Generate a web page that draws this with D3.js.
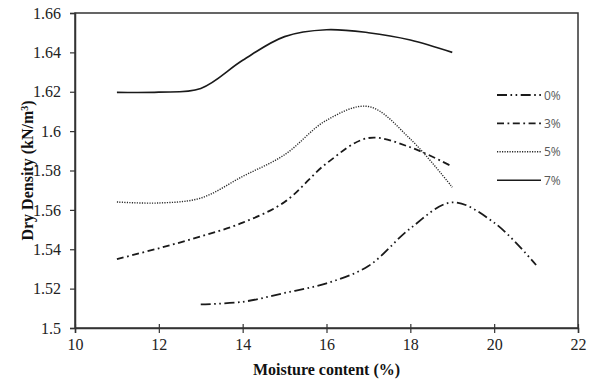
<!DOCTYPE html>
<html>
<head>
<meta charset="utf-8">
<script src="https://cdn.jsdelivr.net/npm/d3@7"></script>
<style>
  html, body { margin: 0; padding: 0; background: #fff; }
  svg { display: block; }
</style>
</head>
<body>
<svg id="chart" width="595" height="380"></svg>
<script>
// Moisture content (%) at each reading
const moisture0 = [13, 14, 15, 16, 17, 18, 19, 20, 21];
const moisture3 = [11, 12, 13, 14, 15, 16, 17, 18, 19];
const moisture5 = [11, 12, 13, 14, 15, 16, 17, 18, 19];
const moisture7 = [11, 12, 13, 14, 15, 16, 17, 18, 19];

// Dry density (kN/m³) for each additive content
const density0 = [1.512, 1.5133, 1.5178, 1.5227, 1.5315, 1.5506, 1.5638, 1.5535, 1.532];
const density3 = [1.535, 1.5405, 1.5465, 1.5535, 1.564, 1.5836, 1.5965, 1.5918, 1.582];
const density5 = [1.564, 1.5635, 1.566, 1.577, 1.588, 1.6055, 1.6125, 1.596, 1.5715];
const density7 = [1.6197, 1.6198, 1.6217, 1.636, 1.648, 1.6515, 1.650, 1.6463, 1.640];

const seriesNames = ["0%", "3%", "5%", "7%"];

// Axis ticks
const xTicks = [10, 12, 14, 16, 18, 20, 22];
const yTicks = [1.5, 1.52, 1.54, 1.56, 1.58, 1.6, 1.62, 1.64, 1.66];

const series = [
  { name: seriesNames[0], x: moisture0, y: density0, dash: "10,3.5,1.6,3.5,1.6,3.5", width: 1.8, color: "#1a1a1a" },
  { name: seriesNames[1], x: moisture3, y: density3, dash: "7,3.5,1.8,3.5", width: 1.8, color: "#1a1a1a" },
  { name: seriesNames[2], x: moisture5, y: density5, dash: "1.2,1.3", width: 1.4, color: "#2a2a2a" },
  { name: seriesNames[3], x: moisture7, y: density7, dash: null, width: 1.6, color: "#1a1a1a" }
];

const W = 595, H = 380;
const margin = { left: 75, right: 17, top: 13, bottom: 52 };
const svg = d3.select("#chart");

const x = d3.scaleLinear().domain([10, 22]).range([margin.left, W - margin.right]);
const y = d3.scaleLinear().domain([1.5, 1.66]).range([H - margin.bottom, margin.top]);

const axisColor = "#333";
const serif = "'Liberation Serif', 'Times New Roman', serif";

// Plot frame
svg.append("rect")
  .attr("x", x(10)).attr("y", y(1.66))
  .attr("width", x(22) - x(10)).attr("height", y(1.5) - y(1.66))
  .attr("fill", "none").attr("stroke", axisColor).attr("stroke-width", 1.5);

// X axis
const gx = svg.append("g")
  .attr("transform", `translate(0,${y(1.5)})`)
  .call(d3.axisBottom(x).tickValues(xTicks).tickFormat(d3.format("d")).tickSize(5).tickPadding(6));
gx.select(".domain").attr("stroke", axisColor).attr("stroke-width", 1.5);
gx.selectAll(".tick line").attr("y1", -4).attr("stroke", axisColor).attr("stroke-width", 1.2);
gx.selectAll(".tick text").attr("font-family", serif).attr("font-size", 16).attr("fill", "#222");

// Y axis
const gy = svg.append("g")
  .attr("transform", `translate(${x(10)},0)`)
  .call(d3.axisLeft(y).tickValues(yTicks).tickFormat(d => String(+d.toFixed(2))).tickSize(5).tickPadding(9));
gy.select(".domain").attr("stroke", axisColor).attr("stroke-width", 1.5);
gy.selectAll(".tick line").attr("stroke", axisColor).attr("stroke-width", 1.2);
gy.selectAll(".tick text").attr("font-family", serif).attr("font-size", 16).attr("fill", "#222");

// Axis titles
svg.append("text")
  .attr("x", (x(10) + x(22)) / 2).attr("y", 375)
  .attr("text-anchor", "middle")
  .attr("font-family", serif).attr("font-weight", "bold").attr("font-size", 16).attr("fill", "#111")
  .text("Moisture content (%)");

const yTitle = svg.append("text")
  .attr("transform", `translate(33,${(y(1.5) + y(1.66)) / 2}) rotate(-90)`)
  .attr("text-anchor", "middle")
  .attr("font-family", serif).attr("font-weight", "bold").attr("font-size", 16).attr("fill", "#111");
yTitle.append("tspan").text("Dry Density (kN/m");
yTitle.append("tspan").attr("baseline-shift", "super").attr("font-size", 10).text("3");
yTitle.append("tspan").text(")");

// Curves
const line = d3.line()
  .x(d => x(d[0]))
  .y(d => y(d[1]))
  .curve(d3.curveCatmullRom.alpha(0.5));

svg.append("g").selectAll("path")
  .data(series)
  .join("path")
  .attr("d", s => line(s.x.map((v, i) => [v, s.y[i]])))
  .attr("fill", "none")
  .attr("stroke", s => s.color)
  .attr("stroke-width", s => s.width)
  .attr("stroke-dasharray", s => s.dash);

// Legend
const legend = svg.append("g").attr("transform", "translate(497,95)");
const rows = legend.selectAll("g")
  .data(series)
  .join("g")
  .attr("transform", (d, i) => `translate(0,${i * 28.4})`);
rows.append("line")
  .attr("x1", 0).attr("x2", 44)
  .attr("stroke", s => s.color)
  .attr("stroke-width", s => s.width)
  .attr("stroke-dasharray", s => s.dash);
rows.append("text")
  .attr("x", 47).attr("y", 4.5)
  .attr("font-family", "'Open Sans', 'Noto Sans', sans-serif").attr("font-size", 12)
  .attr("fill", "#595959")
  .text(s => s.name);
</script>
</body>
</html>
